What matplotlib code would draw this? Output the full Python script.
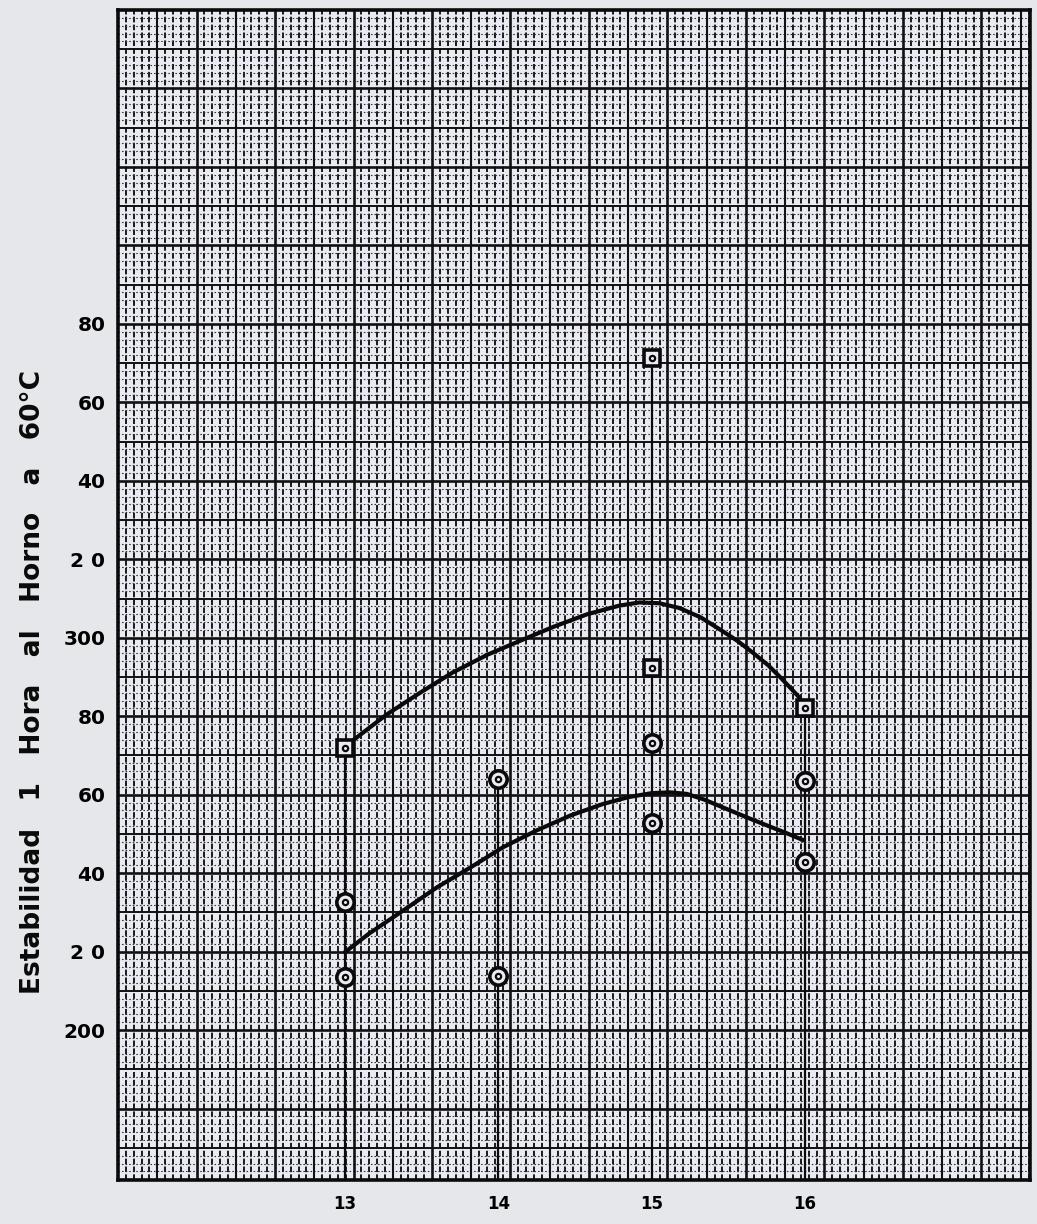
import matplotlib
matplotlib.use("Agg")
import matplotlib.pyplot as plt
import numpy as np

# ---------------- data ----------------
x_ticks = [13, 14, 15, 16]
x_tick_labels = ["13", "14", "15", "16"]

y_ticks = [200, 220, 240, 260, 280, 300, 320, 340, 360, 380]
y_tick_labels = ["200", "2 0", "40", "60", "80", "300", "2 0", "40", "60", "80"]

square_x = [13, 15, 15, 16]
square_y = [272.0, 371.3, 292.4, 282.2]

circle_x = [13, 13, 14, 14, 15, 15, 16, 16]
circle_y = [232.6, 213.5, 263.9, 213.7, 273.3, 252.7, 263.6, 242.8]

# top of each vertical drop line (highest point at each x)
drop_x = [13, 14, 15, 16]
drop_top = [272.0, 263.9, 371.3, 282.2]

upper_curve_x = [13.05, 13.27, 13.49, 13.70, 13.93, 14.14, 14.36, 14.58, 14.79,
                 14.92, 15.05, 15.18, 15.32, 15.45, 15.56, 15.66, 15.76, 15.84, 15.92, 15.97]
upper_curve_y = [273.8, 280.4, 286.0, 291.1, 295.7, 299.2, 302.8, 306.0, 308.2,
                 309.0, 308.8, 307.6, 305.2, 302.0, 299.2, 296.2, 293.0, 289.9, 286.6, 284.5]

lower_curve_x = [13.0, 13.16, 13.38, 13.60, 13.82, 14.03, 14.25, 14.47, 14.68,
                 14.85, 15.00, 15.12, 15.23, 15.34, 15.45, 15.66, 15.88, 15.99]
lower_curve_y = [219.9, 224.7, 230.5, 236.4, 241.5, 246.6, 250.9, 254.7, 257.6,
                 259.4, 260.4, 260.6, 260.2, 258.8, 257.0, 253.6, 250.2, 248.4]

y_label = "Estabilidad   1   Hora   al   Horno   a   60°C"

# ---------------- figure ----------------
W, H = 1037, 1224
fig = plt.figure(figsize=(W / 100, H / 100), dpi=100)
fig.patch.set_facecolor("#e6e7ea")

left_px, right_px, top_px, bottom_px = 118, 1030, 10, 1180
pos = [left_px / W, 1 - bottom_px / H, (right_px - left_px) / W, (bottom_px - top_px) / H]

ylim = (161.8, 460.0)
xlim = (11.519, 17.468)

# graph-paper background axes
paper = fig.add_axes(pos, zorder=0)
paper.set_facecolor("#eaeaf3")
paper.set_xlim(0, (right_px - left_px) / 7.85)
paper.set_ylim(*ylim)
ink = "#111111"
# fine lines
for xv in np.arange(0, 117, 1):
    if xv % 5:
        paper.axvline(xv, color=ink, lw=1.35, ls=(0, (3.0, 1.2)), zorder=1)
for yv in np.arange(162, 460, 2):
    if yv % 10:
        paper.axhline(yv, color="#333333", lw=0.8, ls=(0, (1.4, 1.8)), zorder=1)
# medium & major lines
for xv in np.arange(5, 117, 5):
    paper.axvline(xv, color=ink, lw=1.9 if xv % 10 == 0 else 1.5, zorder=2)
for yv in np.arange(170, 460, 10):
    paper.axhline(yv, color=ink, lw=1.9 if yv % 20 == 0 else 1.4, zorder=2)
paper.set_xticks([])
paper.set_yticks([])
for s in paper.spines.values():
    s.set_visible(False)

# data axes
ax = fig.add_axes(pos, zorder=1)
ax.set_facecolor("none")
ax.set_xlim(*xlim)
ax.set_ylim(*ylim)
for s in ax.spines.values():
    s.set_linewidth(2.6)
    s.set_color("#0a0a0a")

ax.set_yticks(y_ticks)
ax.set_yticklabels(y_tick_labels, fontsize=14.5, fontweight="bold")
ax.set_xticks(x_ticks)
ax.set_xticklabels(x_tick_labels, fontsize=12, fontweight="bold")
ax.tick_params(axis="y", length=0, pad=9)
ax.tick_params(axis="x", length=0, pad=11)

# vertical drop lines
ax.vlines(drop_x, ylim[0], drop_top, color="#0a0a0a", lw=1.6, zorder=3)

# fitted curves
ax.plot(upper_curve_x, upper_curve_y, color="#0a0a0a", lw=3.0,
        solid_capstyle="round", solid_joinstyle="round", zorder=4)
ax.plot(lower_curve_x, lower_curve_y, color="#0a0a0a", lw=3.0,
        solid_capstyle="round", solid_joinstyle="round", zorder=4)

# markers
ax.plot(square_x, square_y, ls="none", marker="s", ms=11.5, mew=2.6,
        mec="#0a0a0a", mfc="#ecebf3", zorder=5)
ax.plot(circle_x, circle_y, ls="none", marker="o", ms=12.5, mew=2.6,
        mec="#0a0a0a", mfc="#ecebf3", zorder=5)
ax.plot(square_x + circle_x, square_y + circle_y, ls="none", marker="o",
        ms=3.8, mew=1.6, mec="#0a0a0a", mfc="none", zorder=6)

fig.text(33 / W, 1 - 682 / H, y_label, rotation=90, fontsize=19,
         fontweight="bold", ha="center", va="center", color="#0a0a0a")

fig.savefig("out.png", dpi=100, facecolor=fig.get_facecolor())
